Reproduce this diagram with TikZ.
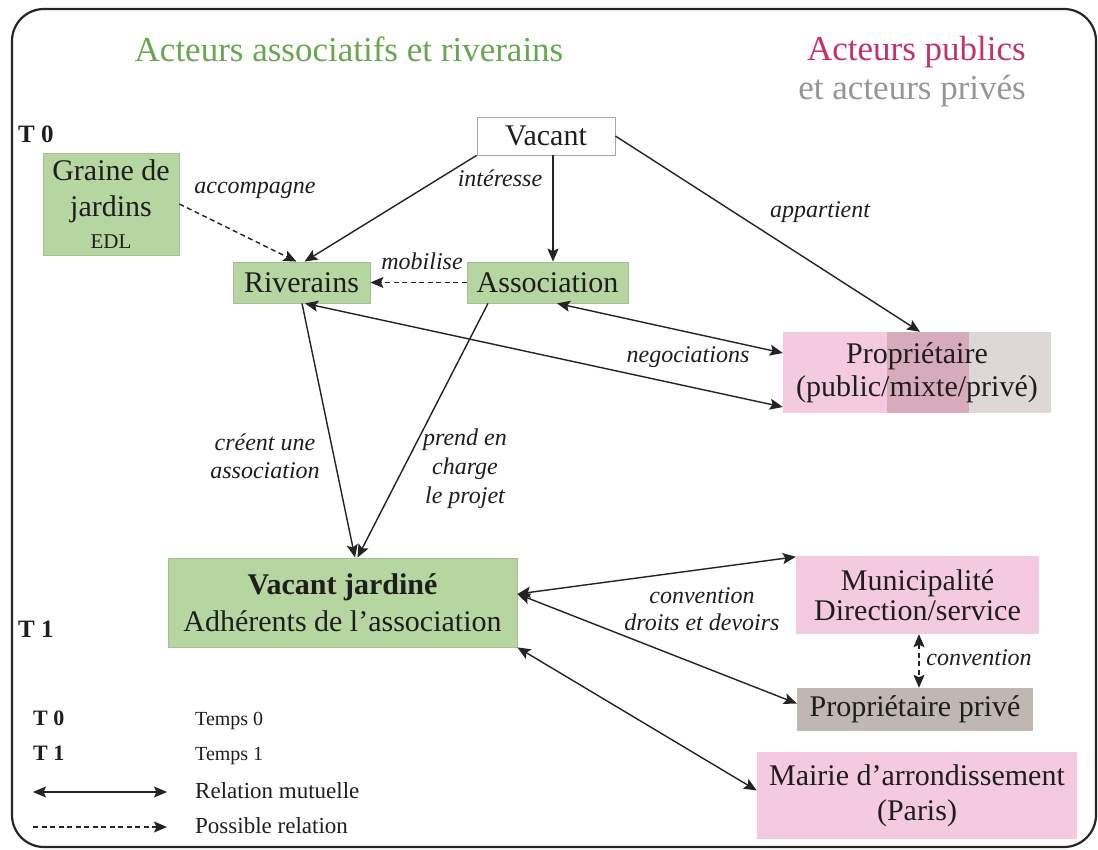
\documentclass[tikz,border=0pt]{standalone}
\usepackage{fontspec}
\setmainfont{Liberation Serif}
\usetikzlibrary{arrows.meta,calc}
\definecolor{gtitle}{RGB}{104,166,80}
\definecolor{gfill}{RGB}{181,214,160}
\definecolor{gdraw}{RGB}{165,190,150}
\definecolor{pfill}{RGB}{244,202,224}
\definecolor{mauve}{RGB}{214,172,188}
\definecolor{lgray}{RGB}{221,215,213}
\definecolor{ppfill}{RGB}{192,182,178}
\definecolor{ptitle}{RGB}{196,48,112}
\definecolor{grtitle}{RGB}{150,150,150}
\definecolor{txt}{RGB}{30,30,30}
\definecolor{arrc}{RGB}{35,35,35}
\begin{document}
\begin{tikzpicture}[x=1pt,y=-1pt,
  every node/.style={text=txt, inner sep=0pt},
  main/.style={font=\fontsize{30}{33}\selectfont, align=center},
  gbox/.style={main, fill=gfill, draw=gdraw, line width=0.8pt},
  pbox/.style={main, fill=pfill},
  lab/.style={font=\fontsize{24}{28}\selectfont\itshape, align=center},
  tip/.tip={Stealth[length=13pt,width=11pt,inset=2.5pt]},
  arr/.style={draw=arrc, line width=1.4pt, -tip},
  dbl/.style={draw=arrc, line width=1.4pt, tip-tip},
  dsh/.style={dash pattern=on 5pt off 3.5pt}
]
\useasboundingbox (0,0) rectangle (1098,850);
\fill[white] (0,0) rectangle (1098,850);
\draw[line width=2.2pt, draw=black!85, rounded corners=32pt] (12,9) rectangle (1096,847);

% titles
\node[font=\fontsize{35}{38}\selectfont, text=gtitle, anchor=base] (tg) at (349,62) {Acteurs associatifs et riverains};
\node[font=\fontsize{35}{38}\selectfont, text=ptitle, anchor=base east] (tp) at (1026,61) {Acteurs publics};
\node[font=\fontsize{35}{38}\selectfont, text=grtitle, anchor=base east] (tr) at (1026,100) {et acteurs privés};

\node[font=\fontsize{25}{28}\selectfont\bfseries, anchor=base west] (tz) at (18,143) {T 0};
\node[font=\fontsize{25}{28}\selectfont\bfseries, anchor=base west] (to) at (18,637) {T 1};

% nodes
\node[gbox, minimum width=137, minimum height=41] (riv) at (301.5,282.5) {Riverains};
\node[gbox, minimum width=161, minimum height=41] (asso) at (547.5,282.5) {Association};
\node[main, draw=gray!70, fill=white, line width=0.8pt, minimum width=138, minimum height=38] (vac) at (546,136) {Vacant};
\node[gbox, minimum width=136, minimum height=102, font=\fontsize{30}{36}\selectfont] (gra) at (111,204) {Graine de\\jardins\\[-4pt]{\fontsize{21}{24}\selectfont EDL}};

\fill[pfill] (783,332) rectangle (887,413);
\fill[mauve] (887,332) rectangle (969,413);
\fill[lgray] (969,332) rectangle (1051,413);
\node[main, minimum width=268, minimum height=81] (prop) at (917,372.5) {Propriétaire\\(public/mixte/privé)};

\node[gbox, minimum width=349, minimum height=89, font=\fontsize{30}{37}\selectfont] (vj) at (342.5,602.5) {\textbf{Vacant jardiné}\\Adhérents de l’association};
\node[pbox, minimum width=243, minimum height=78, font=\fontsize{30}{30}\selectfont] (muni) at (917.5,595) {Municipalité\\Direction/service};
\node[main, fill=ppfill, minimum width=236, minimum height=43] (pp) at (915,709.5) {Propriétaire privé};
\node[pbox, minimum width=320, minimum height=87, font=\fontsize{30}{35}\selectfont] (mai) at (917,795.5) {Mairie d’arrondissement\\(Paris)};

% connectors
\draw[arr] (vac.south west) -- ($(riv.north)+(3,0)$);
\draw[arr,dsh] (gra.east) -- ($(riv.north)+(-5,0)$);
\draw[arr] ($(vac.south)+(7,0)$) -- ($(asso.north)+(5.5,0)$);
\draw[arr] (vac.east) -- ($(prop.north)+(3,0)$);
\draw[arr,dsh] (asso.west) -- (riv.east);
\draw[dbl] ($(prop.west)+(0,-19.5)$) -- ($(asso.south)+(9.5,0)$);
\draw[dbl] ($(prop.west)+(0,34.5)$) -- ($(riv.south)+(3.5,0)$);
\draw[arr] ($(riv.south)+(0.5,0)$) -- ($(vj.north)+(12.5,0)$);
\draw[arr] ($(asso.south)+(-59.5,0)$) -- ($(vj.north)+(15,0)$);
\draw[dbl] ($(vj.east)+(0,-8.5)$) -- ($(muni.north west)+(0,1)$);
\draw[dbl] ($(vj.east)+(0,-8.5)$) -- ($(pp.west)+(0,-6)$);
\draw[dbl] (vj.south east) -- ($(mai.west)+(0,-5)$);
\draw[dbl,dsh] ($(muni.south)+(1.5,0)$) -- ($(pp.north)+(4,0)$);

% labels
\node[lab] (l1) at (255,190) {accompagne};
\node[lab] (l2) at (500,178) {intéresse};
\node[lab] (l3) at (820,212) {appartient};
\node[lab] (l4) at (422,261) {mobilise};
\node[lab] (l5) at (688,357) {negociations};
\node[lab, anchor=base] (l6) at (265,478) {créent une\\association};
\node[lab, anchor=base, font=\fontsize{24}{29}\selectfont\itshape] (l7) at (465,503) {prend en\\charge\\le projet};
\node[lab, anchor=base, font=\fontsize{24}{27}\selectfont\itshape] (l8) at (702,630) {convention\\droits et devoirs};
\node[lab, anchor=base] (l9) at (979,665) {convention};

% legend
\node[font=\fontsize{22}{24}\selectfont\bfseries, anchor=base west] (k1) at (33,725) {T 0};
\node[font=\fontsize{20}{24}\selectfont, anchor=base west] (k2) at (195,725) {Temps 0};
\node[font=\fontsize{22}{24}\selectfont\bfseries, anchor=base west] (k3) at (33,760) {T 1};
\node[font=\fontsize{20}{24}\selectfont, anchor=base west] (k4) at (195,760) {Temps 1};
\coordinate (ka) at (33,792);
\coordinate (kb) at (167,792);
\draw[dbl] (ka) -- (kb);
\node[font=\fontsize{23}{26}\selectfont, anchor=base west] (k5) at (195,798) {Relation mutuelle};
\coordinate (kc) at (33,827);
\coordinate (kd) at (167,827);
\draw[arr,dsh] (kc) -- (kd);
\node[font=\fontsize{23}{26}\selectfont, anchor=base west] (k6) at (195,833) {Possible relation};
\end{tikzpicture}
\end{document}
